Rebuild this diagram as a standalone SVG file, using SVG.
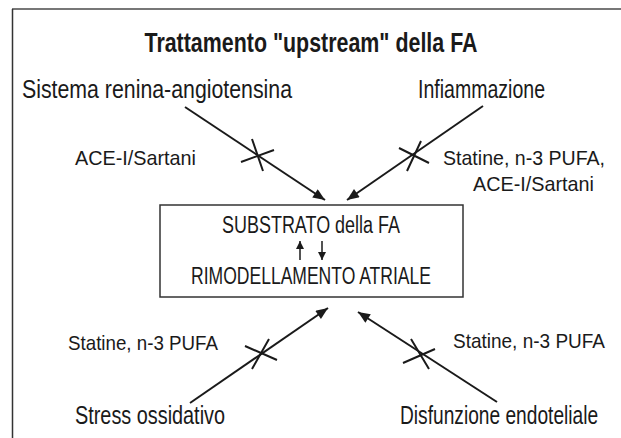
<svg xmlns="http://www.w3.org/2000/svg" width="621" height="438" viewBox="0 0 621 438">
<style>
text{font-family:"Liberation Sans",Arial,sans-serif;fill:#1a1a1a}
.t{font-size:27px;font-weight:bold;text-anchor:middle}
.n{font-size:25px}
.l{font-size:21px}
.b{font-size:23px;text-anchor:middle}
.ln{stroke:#1a1a1a;stroke-width:2;fill:none}
.x{stroke:#1a1a1a;stroke-width:2;fill:none}
.sa{stroke:#1a1a1a;stroke-width:1.5;fill:none}
</style>
<defs>
<marker id="ah" viewBox="0 0 12 10" refX="12" refY="5" markerWidth="13" markerHeight="10" markerUnits="userSpaceOnUse" orient="auto">
<path d="M0,0 L12,5 L0,10 z" fill="#1a1a1a"/>
</marker>
<marker id="sh" viewBox="0 0 8 8" refX="8" refY="4" markerWidth="8" markerHeight="8" markerUnits="userSpaceOnUse" orient="auto">
<path d="M0,0 L8,4 L0,8 z" fill="#1a1a1a"/>
</marker>
</defs>
<rect width="621" height="438" fill="#fff"/>
<line x1="12" y1="9" x2="621" y2="9" stroke="#777" stroke-width="2"/>
<line x1="12.5" y1="9" x2="12.5" y2="438" stroke="#333" stroke-width="1.5"/>
<g id="title"><text class="t" x="311" y="52" textLength="333" lengthAdjust="spacingAndGlyphs">Trattamento "upstream" della FA</text></g>
<g id="n-raas"><text class="n" x="22" y="98" textLength="270" lengthAdjust="spacingAndGlyphs">Sistema renina-angiotensina</text></g>
<g id="n-infl"><text class="n" x="418" y="98" textLength="127" lengthAdjust="spacingAndGlyphs">Infiammazione</text></g>
<g id="n-ox"><text class="n" x="75" y="424" textLength="150" lengthAdjust="spacingAndGlyphs">Stress ossidativo</text></g>
<g id="n-endo"><text class="n" transform="translate(400,424) scale(0.767,1)" x="0" y="0">Disfunzione endoteliale</text></g>
<g id="center">
<rect x="160" y="205" width="303" height="92" fill="none" stroke="#333" stroke-width="1.5"/>
<text class="b" x="311" y="233" textLength="178" lengthAdjust="spacingAndGlyphs">SUBSTRATO della FA</text>
<line class="sa" x1="300" y1="260" x2="300" y2="241" marker-end="url(#sh)"/>
<line class="sa" x1="322" y1="241" x2="322" y2="260" marker-end="url(#sh)"/>
<text class="b" x="311" y="284" textLength="240" lengthAdjust="spacingAndGlyphs">RIMODELLAMENTO ATRIALE</text>
</g>
<g id="connectors">
<line class="ln" x1="185" y1="107" x2="325" y2="200" marker-end="url(#ah)"/>
<line class="ln" x1="483" y1="106" x2="347" y2="200" marker-end="url(#ah)"/>
<line class="ln" x1="190" y1="403" x2="328" y2="308" marker-end="url(#ah)"/>
<line class="ln" x1="497" y1="402" x2="358" y2="312" marker-end="url(#ah)"/>
<path class="x" d="M241,162 L274,150 M252,139 L263,171"/>
<path class="x" d="M399,148 L429,163 M421,141 L407,171"/>
<path class="x" d="M245,346 L277,360 M252,369 L269,339"/>
<path class="x" d="M403,363 L435,349 M411,339 L429,369"/>
<text class="l" x="75" y="165" textLength="121" lengthAdjust="spacingAndGlyphs">ACE-I/Sartani</text>
<text class="l" x="443" y="165" textLength="162" lengthAdjust="spacingAndGlyphs">Statine, n-3 PUFA,</text>
<text class="l" x="473" y="191" textLength="121" lengthAdjust="spacingAndGlyphs">ACE-I/Sartani</text>
<text class="l" x="68" y="350" textLength="150" lengthAdjust="spacingAndGlyphs">Statine, n-3 PUFA</text>
<text class="l" x="453" y="348" textLength="152" lengthAdjust="spacingAndGlyphs">Statine, n-3 PUFA</text>
</g>
</svg>
